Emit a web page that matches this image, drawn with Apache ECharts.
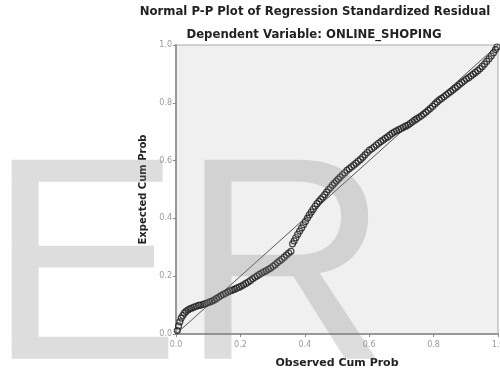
<!DOCTYPE html>
<html>
<head>
<meta charset="utf-8">
<script src="https://cdn.jsdelivr.net/npm/echarts@6/dist/echarts.min.js"></script>
<style>html,body{margin:0;padding:0;background:#fff;}#c{width:500px;height:371px;}</style>
</head>
<body>
<div id="c"></div>
<script>
var titleText = 'Normal P-P Plot of Regression Standardized Residual';
var subtitleText = 'Dependent Variable: ONLINE_SHOPING';
var xName = 'Observed Cum Prob';
var yName = 'Expected Cum Prob';
var watermark = 'ER';
var axisTicks = [0.0, 0.2, 0.4, 0.6, 0.8, 1.0];

var observed = [
0.004,0.008,0.012,0.016,0.021,0.026,0.031,0.037,0.043,0.049,
0.056,0.063,0.070,0.077,0.084,0.091,0.098,0.105,0.112,0.119,
0.126,0.133,0.140,0.147,0.154,0.161,0.168,0.175,0.182,0.189,
0.196,0.203,0.210,0.217,0.224,0.231,0.238,0.245,0.252,0.259,
0.266,0.273,0.280,0.287,0.294,0.301,0.308,0.315,0.322,0.329,
0.336,0.343,0.350,0.357,0.362,0.367,0.372,0.378,0.384,0.390,
0.396,0.402,0.408,0.414,0.420,0.426,0.432,0.438,0.444,0.450,
0.456,0.462,0.468,0.474,0.480,0.486,0.492,0.498,0.504,0.510,
0.517,0.524,0.531,0.538,0.545,0.552,0.559,0.566,0.573,0.580,
0.587,0.594,0.601,0.608,0.615,0.622,0.629,0.636,0.643,0.650,
0.657,0.664,0.671,0.678,0.685,0.692,0.699,0.706,0.713,0.720,
0.727,0.734,0.741,0.748,0.755,0.762,0.769,0.776,0.783,0.790,
0.797,0.804,0.811,0.818,0.825,0.832,0.839,0.846,0.853,0.860,
0.867,0.874,0.881,0.888,0.895,0.902,0.909,0.916,0.923,0.930,
0.937,0.944,0.951,0.958,0.965,0.972,0.979,0.986,0.992,0.997
];
var expected = [
0.012,0.028,0.042,0.055,0.064,0.072,0.078,0.083,0.087,0.090,
0.093,0.096,0.099,0.100,0.103,0.105,0.108,0.111,0.114,0.118,
0.123,0.128,0.133,0.137,0.141,0.145,0.149,0.152,0.155,0.159,
0.162,0.166,0.170,0.175,0.180,0.185,0.191,0.196,0.201,0.206,
0.211,0.215,0.219,0.224,0.228,0.234,0.240,0.247,0.253,0.259,
0.266,0.273,0.280,0.286,0.312,0.322,0.333,0.345,0.356,0.367,
0.378,0.389,0.401,0.412,0.422,0.432,0.442,0.451,0.459,0.467,
0.474,0.482,0.491,0.500,0.507,0.515,0.522,0.529,0.536,0.543,
0.551,0.558,0.566,0.572,0.578,0.584,0.591,0.598,0.604,0.612,
0.620,0.628,0.636,0.641,0.647,0.654,0.660,0.666,0.671,0.677,
0.682,0.688,0.694,0.699,0.703,0.707,0.711,0.715,0.719,0.723,
0.728,0.734,0.740,0.745,0.750,0.755,0.761,0.767,0.774,0.781,
0.788,0.796,0.803,0.810,0.815,0.821,0.827,0.833,0.839,0.845,
0.851,0.857,0.864,0.870,0.876,0.882,0.887,0.893,0.899,0.905,
0.911,0.918,0.926,0.934,0.943,0.952,0.962,0.973,0.984,0.993
];
var refLine = [[0, 0], [1, 1]];

var points = observed.map(function (v, i) { return [v, expected[i]]; });

var chart = echarts.init(document.getElementById('c'), null, {renderer: 'canvas'});
var axisCommon = {
  type: 'value', min: 0, max: 1, interval: 0.2,
  axisLine: {show: true, lineStyle: {color: '#999', width: 2}},
  axisTick: {show: true, length: 3, lineStyle: {color: '#888'}},
  axisLabel: {color: '#999', fontSize: 8, fontFamily: 'DejaVu Sans',
    formatter: function (v) { return v.toFixed(1); }},
  splitLine: {show: false},
  nameLocation: 'middle',
  nameTextStyle: {color: '#222', fontSize: 11, fontWeight: 'bold', fontFamily: 'DejaVu Sans'}
};
chart.setOption({
  animation: false,
  grid: {left: 176, right: 2, top: 45, bottom: 37, show: true,
    containLabel: false, outerBoundsMode: 'none',
    backgroundColor: '#f0f0f0', borderColor: '#aaa', borderWidth: 1},
  xAxis: Object.assign({}, axisCommon, {name: xName, nameGap: 24,
    axisLabel: Object.assign({}, axisCommon.axisLabel, {margin: 7})}),
  yAxis: Object.assign({}, axisCommon, {name: yName, nameGap: 27,
    nameTextStyle: Object.assign({}, axisCommon.nameTextStyle, {fontSize: 10}),
    axisLabel: Object.assign({}, axisCommon.axisLabel, {margin: 4})}),
  graphic: [
    {type: 'text', z: 10,
      style: {text: titleText, x: 315, y: 12, align: 'center', verticalAlign: 'middle',
        font: 'bold 11.7px "DejaVu Sans"', fill: '#222'}},
    {type: 'text', z: 10,
      style: {text: subtitleText, x: 314, y: 35, align: 'center', verticalAlign: 'middle',
        font: 'bold 11.7px "DejaVu Sans"', fill: '#222'}},
    {type: 'text', z: 100, silent: true,
      style: {text: watermark, x: -12, y: 279, align: 'left', verticalAlign: 'middle',
        font: '289px "Liberation Sans"', fill: 'rgba(128,128,128,0.27)'}}
  ],
  series: [
    {type: 'line', data: refLine, symbol: 'none', z: 2,
      lineStyle: {color: '#555', width: 1}},
    {type: 'scatter', data: points, symbol: 'circle', symbolSize: 6, z: 3,
      itemStyle: {color: 'rgba(0,0,0,0)', borderColor: '#1a1a1a', borderWidth: 1.2}}
  ]
});
</script>
</body>
</html>
